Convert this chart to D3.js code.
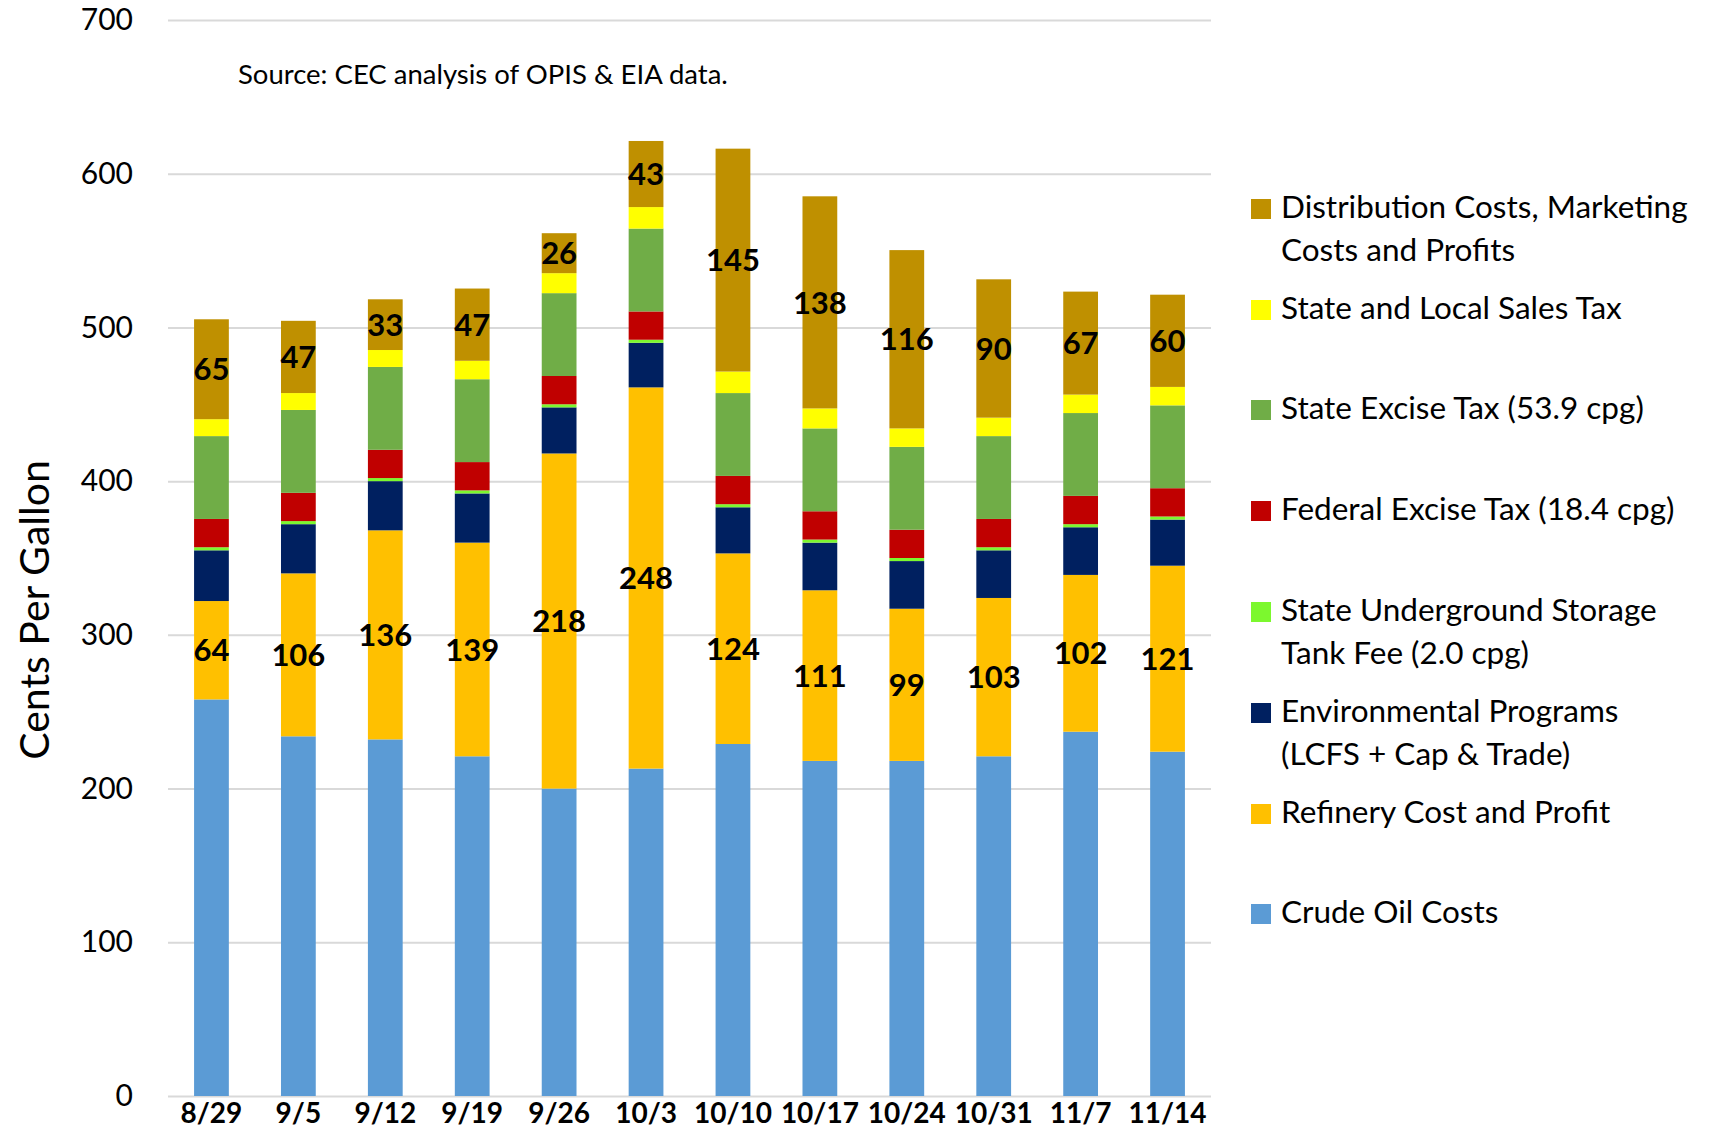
<!DOCTYPE html>
<html>
<head>
<meta charset="utf-8">
<script src="https://cdn.jsdelivr.net/npm/d3@7"></script>
<style>
  body { margin: 0; background: #fff; }
  text { font-family: Lato, "Open Sans", sans-serif; }
</style>
</head>
<body>
<svg id="chart"></svg>
<script>
// weekly gasoline price breakdown, cents per gallon
const dates = ['8/29', '9/5', '9/12', '9/19', '9/26', '10/3', '10/10', '10/17', '10/24', '10/31', '11/7', '11/14'];

const crudeOil     = [258, 234, 232, 221, 200, 213, 229, 218, 218, 221, 237, 224];
const refinery     = [64, 106, 136, 139, 218, 248, 124, 111, 99, 103, 102, 121];
const environment  = [33, 32, 32, 32, 30, 29, 30, 31, 31, 31, 31, 30];
const ustFee       = [2, 2, 2, 2, 2, 2, 2, 2, 2, 2, 2, 2];
const federalTax   = [18.4, 18.4, 18.4, 18.4, 18.4, 18.4, 18.4, 18.4, 18.4, 18.4, 18.4, 18.4];
const stateExcise  = [53.9, 53.9, 53.9, 53.9, 53.9, 53.9, 53.9, 53.9, 53.9, 53.9, 53.9, 53.9];
const salesTax     = [11, 11, 11, 12, 13, 14, 14, 13, 12, 12, 12, 12];
const distribution = [65, 47, 33, 47, 26, 43, 145, 138, 116, 90, 67, 60];

const yTicks = [0, 100, 200, 300, 400, 500, 600, 700];

// stacking order, bottom to top
const seriesKeys = ['crude', 'refinery', 'env', 'ust', 'federal', 'state', 'sales', 'dist'];
const seriesValues = [crudeOil, refinery, environment, ustFee, federalTax, stateExcise, salesTax, distribution];
const seriesColors = ['#5B9BD5', '#FFC000', '#002060', '#7CF82E', '#C00000', '#70AD47', '#FFFF00', '#BF9000'];
const seriesLabels = [
    ['Crude Oil Costs'],
    ['Refinery Cost and Profit'],
    ['Environmental Programs', '(LCFS + Cap & Trade)'],
    ['State Underground Storage', 'Tank Fee (2.0 cpg)'],
    ['Federal Excise Tax (18.4 cpg)'],
    ['State Excise Tax (53.9 cpg)'],
    ['State and Local Sales Tax'],
    ['Distribution Costs, Marketing', 'Costs and Profits']
];
const labelledSeries = ['refinery', 'dist'];

class StackedBarChart {

    constructor( config, data ) {
        this.config = {
            parent: config.parent,
            width: config.width || 1711,
            height: config.height || 1130,
            margin: config.margin || {top:20, right:500, bottom:34, left:168},
            ylabel: config.ylabel || '',
            note: config.note || ''
        }
        this.data = data;
        this.init();
    }

    init() {
        let self = this;

        self.svg = d3.select( self.config.parent )
            .attr('width', self.config.width)
            .attr('height', self.config.height);

        self.inner_width = self.config.width - self.config.margin.left - self.config.margin.right;
        self.inner_height = self.config.height - self.config.margin.top - self.config.margin.bottom;

        self.chart = self.svg.append('g')
            .attr('transform', `translate(${self.config.margin.left}, ${self.config.margin.top})`);

        self.xscale = d3.scaleBand()
            .domain(dates)
            .range([0, self.inner_width])
            .paddingInner(0.6)
            .paddingOuter(0.3);

        self.yscale = d3.scaleLinear()
            .domain([0, 700])
            .range([self.inner_height, 0]);

        self.color = d3.scaleOrdinal()
            .domain(seriesKeys)
            .range(seriesColors);

        self.stack = d3.stack().keys(seriesKeys);

        self.yaxis_group = self.chart.append('g');
        self.xaxis_group = self.chart.append('g')
            .attr('transform', `translate(0, ${self.inner_height})`);

        self.svg.append('text')
            .attr('x', 238)
            .attr('y', 84)
            .style('font-size', '27.5px')
            .attr('fill', '#000')
            .text( self.config.note );

        self.svg.append('text')
            .attr('transform', `translate(49, 610) rotate(-90)`)
            .attr('text-anchor', 'middle')
            .style('font-size', '41px')
            .attr('fill', '#000')
            .text( self.config.ylabel );
    }

    update() {
        let self = this;
        self.series = self.stack( self.data );
        self.render();
    }

    render() {
        let self = this;

        // gridlines + y ticks
        self.yaxis_group
            .call( d3.axisLeft(self.yscale).tickValues(yTicks).tickSize(-self.inner_width).tickPadding(35) )
            .call( g => g.select('.domain').remove() )
            .call( g => g.selectAll('.tick line').attr('stroke', '#D9D9D9').attr('stroke-width', 2) )
            .call( g => g.selectAll('.tick text')
                .style('font-size', '30px')
                .style('font-family', 'Lato, sans-serif')
                .attr('fill', '#000') );

        self.xaxis_group
            .call( d3.axisBottom(self.xscale).tickSize(0).tickPadding(7) )
            .call( g => g.select('.domain').remove() )
            .call( g => g.selectAll('.tick text')
                .style('font-size', '28px')
                .style('font-weight', 'bold')
                .style('font-family', 'Lato, sans-serif')
                .attr('fill', '#000') );

        const layer = self.chart.selectAll('.layer')
            .data( self.series )
            .enter()
            .append('g')
            .attr('class', 'layer')
            .attr('fill', d => self.color(d.key));

        layer.selectAll('rect')
            .data( d => d )
            .enter()
            .append('rect')
            .attr('x', d => self.xscale(d.data.date))
            .attr('y', d => self.yscale(d[1]))
            .attr('width', self.xscale.bandwidth())
            .attr('height', d => self.yscale(d[0]) - self.yscale(d[1]));

        // value labels on refinery and distribution segments
        self.series.filter(s => labelledSeries.includes(s.key)).forEach(s => {
            self.chart.append('g')
                .selectAll('text')
                .data( s )
                .enter()
                .append('text')
                .attr('x', d => self.xscale(d.data.date) + self.xscale.bandwidth() / 2)
                .attr('y', d => self.yscale((d[0] + d[1]) / 2))
                .attr('dy', '0.36em')
                .attr('text-anchor', 'middle')
                .style('font-size', '31px')
                .style('font-weight', 'bold')
                .attr('fill', '#000')
                .text( d => d.data[s.key] );
        });

        // legend, top item = top of stack
        const legendTops = [904, 804, 703, 602, 501, 400, 300, 199];
        const legend = self.svg.append('g');
        seriesKeys.forEach((key, i) => {
            const item = legend.append('g')
                .attr('transform', `translate(1251, ${legendTops[i]})`);
            item.append('rect')
                .attr('width', 20)
                .attr('height', 20)
                .attr('fill', self.color(key));
            item.selectAll('text')
                .data( seriesLabels[i] )
                .enter()
                .append('text')
                .attr('x', 30)
                .attr('y', (d, j) => 19 + j * 43)
                .style('font-size', '31.5px')
                .attr('fill', '#000')
                .text( d => d );
        });
    }
}

const rows = dates.map((date, i) => {
    const row = { date: date };
    seriesKeys.forEach((k, j) => { row[k] = seriesValues[j][i]; });
    return row;
});

const chart = new StackedBarChart({
    parent: '#chart',
    width: 1711,
    height: 1130,
    ylabel: 'Cents Per Gallon',
    note: 'Source: CEC analysis of OPIS & EIA data.'
}, rows);
chart.update();
</script>
</body>
</html>
